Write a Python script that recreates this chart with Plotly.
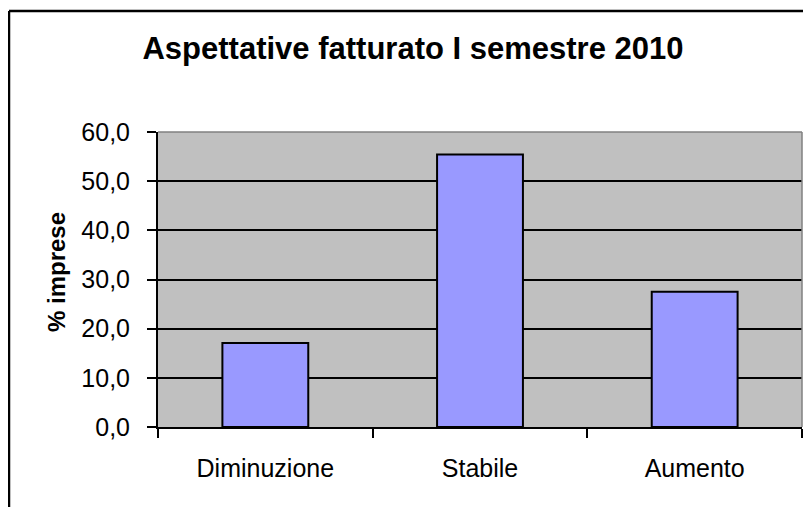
import plotly.graph_objects as go

categories = ["Diminuzione", "Stabile", "Aumento"]
values = [17.1, 55.4, 27.5]
y_ticks = [0, 10, 20, 30, 40, 50, 60]

# page has an 8px body margin; figure coordinates are page coordinates minus 8
OFF = 8
W, H = 811 - OFF, 507 - OFF
L, R, T, B = 158 - OFF, 802 - OFF, 132 - OFF, 427 - OFF
pw, ph = R - L, B - T


def px_x(x):
    return (x - OFF - L) / pw


def px_y(y):
    return (B - (y - OFF)) / ph


font = "Liberation Sans, Arial, sans-serif"

fig = go.Figure()
fig.add_trace(go.Bar(
    x=categories, y=values,
    marker=dict(color="#9999FF", line=dict(color="black", width=2)),
    width=0.4,
))

fig.update_layout(
    width=W, height=H,
    margin=dict(l=L, r=W - R, t=T, b=H - B, pad=0),
    paper_bgcolor="white",
    plot_bgcolor="#C0C0C0",
    separators=",.",
    showlegend=False,
    font=dict(family=font, size=25, color="black"),
    title=dict(text="<b>Aspettative fatturato I semestre 2010</b>",
               x=(413 - OFF) / W, xanchor="center",
               y=1 - (48 - OFF) / H, yanchor="middle",
               font=dict(family=font, size=31, color="black")),
    xaxis=dict(
        showline=True, linecolor="black", linewidth=2,
        ticks="outside", tickson="boundaries", ticklen=9, tickwidth=2, tickcolor="black",
        showgrid=False, tickfont=dict(size=25), ticklabelstandoff=18,
    ),
    yaxis=dict(
        range=[0, 60], tickvals=y_ticks, tickformat=".1f",
        showline=True, linecolor="black", linewidth=2,
        ticks="outside", ticklen=9, tickwidth=2, tickcolor="black",
        showgrid=True, gridcolor="black", gridwidth=2,
        tickfont=dict(size=25), zeroline=False, ticklabelstandoff=12,
    ),
    annotations=[
        dict(text="<b>% imprese</b>", textangle=-90, showarrow=False,
             xref="paper", yref="paper", x=px_x(56), y=px_y(272),
             xanchor="center", yanchor="middle",
             font=dict(family=font, size=24, color="black")),
    ],
    shapes=[
        # plot area frame top/right in gray
        dict(type="line", xref="paper", yref="paper", x0=0, x1=1, y0=1, y1=1,
             line=dict(color="#808080", width=1.5), layer="above"),
        dict(type="line", xref="paper", yref="paper", x0=1, x1=1, y0=0, y1=1,
             line=dict(color="#808080", width=1.5), layer="above"),
        # outer chart border (left and top edges visible)
        dict(type="line", xref="paper", yref="paper", x0=px_x(9), x1=px_x(9),
             y0=px_y(11), y1=px_y(530), line=dict(color="black", width=2.5)),
        dict(type="line", xref="paper", yref="paper", x0=px_x(9), x1=px_x(830),
             y0=px_y(11), y1=px_y(11), line=dict(color="black", width=2.5)),
    ],
)

fig.write_html("out.html")
